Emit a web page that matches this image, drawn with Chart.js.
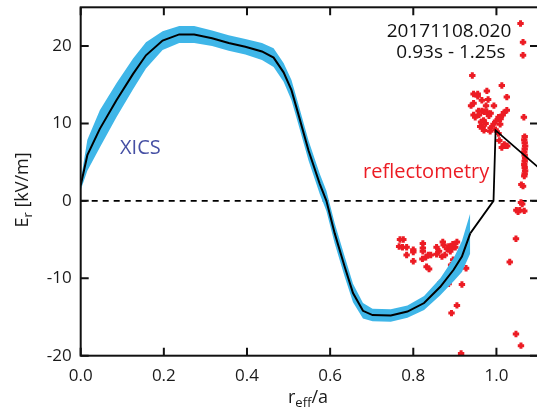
<!DOCTYPE html>
<html>
<head>
<meta charset="utf-8">
<script src="https://cdn.jsdelivr.net/npm/chart.js@4/dist/chart.umd.min.js"></script>
<style>
  html, body { margin: 0; padding: 0; overflow: hidden; background: #fff; }
  #wrap { width: 545px; height: 412px; }
</style>
</head>
<body>
<div id="wrap"><canvas id="c" width="545" height="412"></canvas></div>
<script>
// XICS radial electric field profile: mean and uncertainty
const xicsR   = [0.000, 0.016, 0.046, 0.086, 0.126, 0.157, 0.197, 0.237, 0.273, 0.316, 0.356, 0.396,
                 0.436, 0.464, 0.488, 0.507, 0.523, 0.548, 0.575, 0.591, 0.611, 0.635, 0.655, 0.679,
                 0.702, 0.746, 0.786, 0.826, 0.865, 0.897, 0.917, 0.937];
const xicsEr  = [2.0, 5.9, 9.3, 13.0, 16.4, 18.8, 20.7, 21.5, 21.5, 21.0, 20.4, 19.9,
                 19.3, 18.5, 16.6, 14.3, 11.3, 6.5, 2.2, 0.0, -4.2, -8.5, -11.9, -14.2,
                 -14.75, -14.8, -14.3, -13.2, -11.1, -8.9, -7.2, -4.2];
const xicsErr = [0.6, 2.0, 2.4, 2.2, 2.0, 1.7, 1.2, 1.1, 1.1, 1.0, 1.0, 1.0,
                 1.1, 1.2, 1.2, 1.3, 1.3, 1.3, 1.3, 1.3, 1.3, 1.3, 1.2, 1.0,
                 0.8, 0.8, 0.8, 0.9, 1.1, 1.5, 2.0, 2.6];

// Edge continuation of the profile
const linkR  = [0.937, 0.993, 0.998, 1.1];
const linkEr = [-4.2, 0.0, 9.1, 4.35];

// Reflectometry measurements
const reflR = [
  0.942, 1.013, 0.977, 0.945, 0.955, 0.955, 1.025, 0.965, 0.980, 0.939, 0.945, 0.975, 0.994,
  0.957, 0.965, 0.971, 0.977, 0.986, 1.025, 1.018, 1.015, 0.945, 0.949, 0.958, 0.982, 1.005,
  1.010, 0.999, 1.009, 0.963, 0.969, 0.974, 0.961, 0.967, 0.993, 0.986, 0.970, 0.985, 0.998,
  1.005, 1.007, 1.013, 1.021, 1.026, 1.019,
  1.058, 1.064, 1.064, 1.066,
  1.068, 1.067, 1.068, 1.069, 1.068, 1.067, 1.068, 1.069, 1.068, 1.067, 1.068, 1.069, 1.068, 1.067,
  1.060, 1.064, 1.059, 1.062, 1.048, 1.052, 1.056, 1.067, 1.047, 1.032, 1.047, 1.059, 0.915,
  0.768, 0.776, 0.766, 0.774, 0.784, 0.784, 0.800, 0.800, 0.800, 0.823, 0.823, 0.823,
  0.822, 0.830, 0.836, 0.842, 0.832, 0.838, 0.856, 0.862, 0.856, 0.871, 0.873, 0.869, 0.876,
  0.881, 0.885, 0.895, 0.892, 0.901, 0.905, 0.889, 0.896, 0.891, 0.927, 0.917, 0.885, 0.865,
  0.905, 0.892
];
const reflEr = [
  16.2, 14.9, 14.2, 13.8, 13.8, 13.5, 13.4, 13.0, 13.1, 12.3, 12.6, 12.3, 12.3,
  11.6, 11.6, 11.5, 11.5, 11.3, 11.7, 11.4, 11.1, 11.1, 10.8, 11.1, 11.0, 10.8,
  10.6, 10.3, 9.9, 10.2, 10.4, 10.0, 9.6, 9.5, 9.9, 9.4, 9.1, 9.0, 9.2,
  8.7, 7.8, 6.9, 7.1, 7.1, 7.3,
  22.9, 20.5, 18.8, 10.8,
  8.3, 7.9, 7.5, 7.1, 6.7, 6.3, 5.9, 5.5, 5.1, 4.7, 4.3, 3.9, 3.5, 3.2,
  2.1, 1.9, -0.2, -0.4, -1.2, -1.4, -1.2, -1.3, -4.9, -7.9, -17.2, -18.7, -19.7,
  -5.0, -5.0, -5.9, -6.0, -6.0, -7.0, -6.3, -6.6, -7.8, -5.5, -6.1, -6.5,
  -7.5, -7.3, -7.0, -7.0, -8.5, -8.8, -6.0, -6.5, -6.9, -5.3, -5.7, -7.2, -7.0,
  -6.2, -5.9, -5.6, -6.2, -6.0, -5.3, -6.5, -7.6, -8.3, -8.7, -10.8, -10.7, -10.6,
  -13.5, -14.5
];

const xTicks = [0.0, 0.2, 0.4, 0.6, 0.8, 1.0];
const yTicks = [-20, -10, 0, 10, 20];
const shotLabel = '20171108.020';
const timeLabel = '0.93s - 1.25s';

const FONT = '"Open Sans", "Noto Sans", sans-serif';
const BLUE = '#3fb6e8';
const RED = '#ec1c24';

const pts = (xs, ys) => xs.map((x, i) => ({ x, y: ys[i] }));

// Frame, inward ticks, axis titles and text labels
const decor = {
  id: 'decor',
  beforeDatasetsDraw(chart) {
    const { ctx, chartArea: a, scales: { y } } = chart;
    // zero line
    ctx.save();
    ctx.strokeStyle = '#000';
    ctx.lineWidth = 1.6;
    ctx.setLineDash([6, 5]);
    const y0 = y.getPixelForValue(0);
    ctx.beginPath(); ctx.moveTo(a.left, y0); ctx.lineTo(a.right, y0); ctx.stroke();
    ctx.restore();
  },
  afterDraw(chart) {
    const { ctx, chartArea: a, scales: { x, y } } = chart;
    ctx.save();
    ctx.strokeStyle = '#111';
    ctx.lineWidth = 2;
    ctx.strokeRect(a.left, a.top, a.right - a.left, a.bottom - a.top);
    const tl = 8;
    ctx.beginPath();
    xTicks.forEach(v => {
      const px = x.getPixelForValue(v);
      ctx.moveTo(px, a.bottom); ctx.lineTo(px, a.bottom - tl);
      ctx.moveTo(px, a.top); ctx.lineTo(px, a.top + tl);
    });
    yTicks.forEach(v => {
      const py = y.getPixelForValue(v);
      ctx.moveTo(a.left, py); ctx.lineTo(a.left + tl, py);
      ctx.moveTo(a.right, py); ctx.lineTo(a.right - tl, py);
    });
    ctx.stroke();

    ctx.fillStyle = '#1a1a1a';
    ctx.textBaseline = 'alphabetic';
    // x title: r_eff/a
    {
      const big = '18px ' + FONT, small = '13px ' + FONT;
      ctx.font = big; const w1 = ctx.measureText('r').width;
      const w3 = ctx.measureText('/a').width;
      ctx.font = small; const w2 = ctx.measureText('eff').width;
      const cx = 308, base = 403;
      let sx = cx - (w1 + w2 + w3) / 2;
      ctx.font = big; ctx.fillText('r', sx, base); sx += w1;
      ctx.font = small; ctx.fillText('eff', sx, base + 4); sx += w2;
      ctx.font = big; ctx.fillText('/a', sx, base);
    }
    // y title: E_r [kV/m]
    {
      ctx.save();
      ctx.translate(28, 190);
      ctx.rotate(-Math.PI / 2);
      const big = '18px ' + FONT, small = '13px ' + FONT;
      ctx.font = big; const w1 = ctx.measureText('E').width;
      const w3 = ctx.measureText(' [kV/m]').width;
      ctx.font = small; const w2 = ctx.measureText('r').width;
      let sx = -(w1 + w2 + w3) / 2;
      ctx.font = big; ctx.fillText('E', sx, 0); sx += w1;
      ctx.font = small; ctx.fillText('r', sx, 4); sx += w2;
      ctx.font = big; ctx.fillText(' [kV/m]', sx, 0);
      ctx.restore();
    }
    // shot and time window
    ctx.font = '19px ' + FONT;
    ctx.textAlign = 'center';
    ctx.fillStyle = '#111';
    ctx.fillText(shotLabel, 449, 37);
    ctx.fillText(timeLabel, 451, 58);
    // diagnostic labels
    ctx.textAlign = 'left';
    ctx.fillStyle = '#4650a4';
    ctx.font = '20px ' + FONT;
    ctx.fillText('XICS', 120, 154);
    ctx.fillStyle = RED;
    ctx.fillText('reflectometry', 363, 178);
    ctx.restore();
  }
};

new Chart(document.getElementById('c'), {
  type: 'scatter',
  data: {
    datasets: [
      {
        label: 'profile',
        type: 'line',
        data: pts(xicsR, xicsEr),
        borderColor: '#000',
        borderWidth: 2,
        pointRadius: 0,
        fill: false,
        order: 0
      },
      {
        label: 'edge',
        type: 'line',
        data: pts(linkR, linkEr),
        borderColor: '#000',
        borderWidth: 1.8,
        pointRadius: 0,
        fill: false,
        order: 0
      },
      {
        label: 'upper',
        type: 'line',
        data: pts(xicsR, xicsEr.map((v, i) => v + xicsErr[i])),
        borderWidth: 0,
        borderColor: BLUE,
        backgroundColor: BLUE,
        pointRadius: 0,
        fill: '+1',
        order: 1
      },
      {
        label: 'lower',
        type: 'line',
        data: pts(xicsR, xicsEr.map((v, i) => v - xicsErr[i])),
        borderWidth: 0,
        borderColor: BLUE,
        pointRadius: 0,
        fill: false,
        order: 2
      },
      {
        label: 'reflectometry',
        data: pts(reflR, reflEr),
        pointStyle: 'cross',
        pointRadius: 3.2,
        pointBorderWidth: 3,
        borderColor: RED,
        backgroundColor: RED,
        order: 3
      }
    ]
  },
  options: {
    responsive: false,
    animation: false,
    events: [],
    layout: { padding: { top: 7.3, right: 3.4, left: 0, bottom: 0 } },
    plugins: { legend: { display: false }, tooltip: { enabled: false } },
    scales: {
      x: {
        type: 'linear',
        min: 0, max: 1.1,
        afterFit: s => { s.height = 56.3; s.paddingLeft = 0; s.paddingRight = 0; },
        grid: { display: false, drawTicks: false },
        border: { display: false },
        afterBuildTicks: s => { s.ticks = xTicks.map(v => ({ value: v })); },
        ticks: {
          padding: 10,
          color: '#1a1a1a',
          font: { family: FONT, size: 17 },
          callback: v => v.toFixed(1),
          maxRotation: 0
        }
      },
      y: {
        type: 'linear',
        min: -20, max: 25,
        afterFit: s => { s.width = 80.7; s.paddingTop = 0; s.paddingBottom = 0; },
        grid: { display: false, drawTicks: false },
        border: { display: false },
        afterBuildTicks: s => { s.ticks = yTicks.map(v => ({ value: v })); },
        ticks: {
          padding: 9,
          color: '#1a1a1a',
          font: { family: FONT, size: 17 },
          callback: v => String(v)
        }
      }
    }
  },
  plugins: [decor]
});
</script>
</body>
</html>
